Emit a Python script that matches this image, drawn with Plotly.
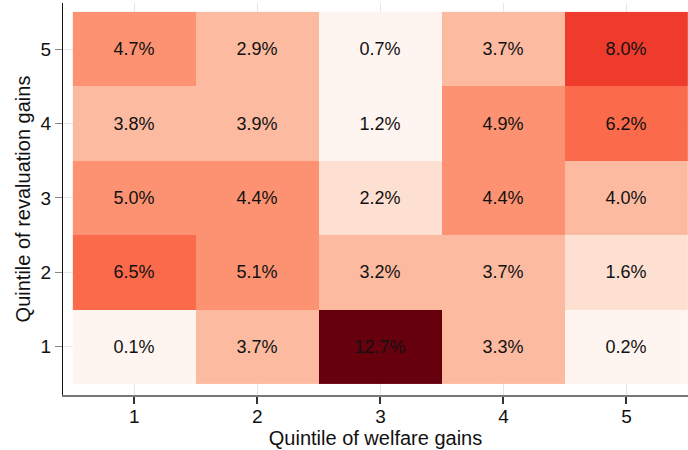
"""Heatmap of welfare vs revaluation gain quintiles."""

import plotly.graph_objects as go

welfare_q = [1, 2, 3, 4, 5]
revaluation_q = [1, 2, 3, 4, 5]

# share of households (%), one row per revaluation quintile (1 -> 5)
share_rq1 = [0.1, 3.7, 12.7, 3.3, 0.2]
share_rq2 = [6.5, 5.1, 3.2, 3.7, 1.6]
share_rq3 = [5.0, 4.4, 2.2, 4.4, 4.0]
share_rq4 = [3.8, 3.9, 1.2, 4.9, 6.2]
share_rq5 = [4.7, 2.9, 0.7, 3.7, 8.0]

# 9-class Reds, binned over the value range
reds = ["#fff5f0", "#fee0d2", "#fcbba1", "#fc9272", "#fb6a4a",
        "#ef3b2c", "#cb181d", "#a50f15", "#67000d"]
scale = []
for i, c in enumerate(reds):
    scale.append([i / len(reds), c])
    scale.append([(i + 1) / len(reds), c])

z = [share_rq1, share_rq2, share_rq3, share_rq4, share_rq5]
zmin = min(min(r) for r in z)
zmax = max(max(r) for r in z)

font = "Liberation Sans, Arial, Helvetica, sans-serif"

fig = go.Figure(
    go.Heatmap(
        x=welfare_q,
        y=revaluation_q,
        z=z,
        zmin=zmin,
        zmax=zmax,
        colorscale=scale,
        showscale=False,
        texttemplate="%{z:.1f}%",
        textfont=dict(family=font, size=18, color="#111111"),
        hoverinfo="skip",
    )
)

axis_common = dict(
    showline=True,
    ticks="outside",
    ticklen=7,
    showgrid=True,
    gridcolor="#e6e6e6",
    gridwidth=1,
    zeroline=False,
    tickfont=dict(family=font, size=19, color="#111111"),
    tickvals=[1, 2, 3, 4, 5],
    mirror=False,
)

fig.update_xaxes(
    range=[0.42, 5.5],
    linecolor="#777777",
    linewidth=2,
    tickcolor="#333333",
    tickwidth=1.5,
    ticklabelstandoff=-4,
    title=dict(text="Quintile of welfare gains", standoff=4,
               font=dict(family=font, size=20, color="#111111")),
    **axis_common,
)
fig.update_yaxes(
    range=[0.35, 5.62],
    linecolor="#111111",
    linewidth=1.2,
    tickcolor="#888888",
    tickwidth=1,
    title=dict(text="Quintile of revaluation gains", standoff=4,
               font=dict(family=font, size=20, color="#111111")),
    **axis_common,
)

fig.update_layout(
    width=688,
    height=450,
    margin=dict(l=63, r=0, t=3, b=55, autoexpand=False),
    plot_bgcolor="white",
    paper_bgcolor="white",
    font=dict(family=font),
)

fig.write_html(
    "out.html",
    config={"displayModeBar": False},
    post_script="document.body.style.margin='0';",
)
